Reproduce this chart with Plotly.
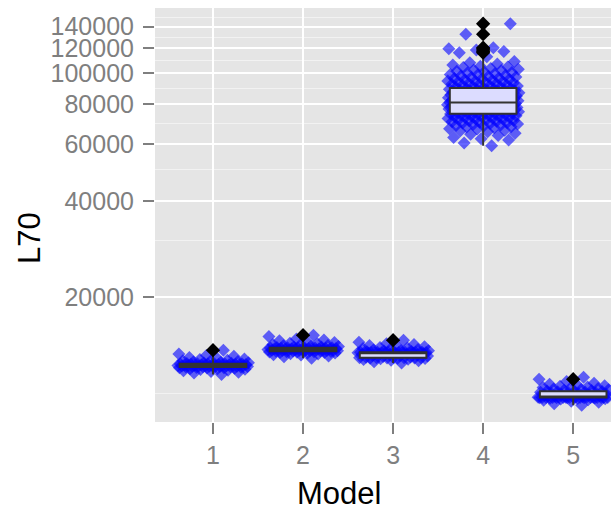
import numpy as np
import plotly.graph_objects as go

# ---- data -------------------------------------------------------------
models = [1, 2, 3, 4, 5]
model_labels = ["1", "2", "3", "4", "5"]

# L70 observations per model
l70_model1 = [
    11450, 11580, 11650, 11700, 11780, 11810, 11870, 11890, 11940, 11950, 11990, 12000,
    12030, 12040, 12060, 12080, 12090, 12100, 12115, 12120, 12135, 12140, 12150, 12165,
    12170, 12180, 12190, 12190, 12200, 12210, 12215, 12220, 12225, 12230, 12240, 12245,
    12260, 12270, 12275, 12290, 12300, 12305, 12320, 12330, 12335, 12350, 12360, 12365,
    12375, 12380, 12390, 12405, 12430, 12450, 12470, 12510, 12530, 12575, 12600, 12650,
    12690, 12760, 12800, 12880, 12950, 13060, 13150, 13290, 13650,
]
l70_model2 = [
    12890, 13020, 13090, 13180, 13220, 13290, 13310, 13370, 13380, 13420, 13430, 13460,
    13470, 13500, 13505, 13520, 13535, 13545, 13560, 13570, 13590, 13595, 13610, 13620,
    13640, 13645, 13660, 13665, 13680, 13690, 13695, 13705, 13715, 13721, 13730, 13745,
    13750, 13760, 13780, 13785, 13795, 13810, 13815, 13830, 13840, 13855, 13860, 13875,
    13880, 13895, 13901, 13920, 13955, 13970, 14020, 14040, 14100, 14120, 14190, 14220,
    14300, 14340, 14430, 14490, 14600, 14680, 14800, 15050, 15206,
]
l70_model3 = [
    12450, 12570, 12640, 12700, 12760, 12790, 12830, 12850, 12875, 12890, 12905, 12912,
    12920, 12924, 12928, 12931, 12934, 12965, 13000, 13050, 13080, 13120, 13150, 13185,
    13210, 13240, 13265, 13290, 13310, 13330, 13350, 13365, 13385, 13400, 13404, 13407,
    13411, 13414, 13418, 13421, 13425, 13428, 13431, 13435, 13438, 13441, 13444, 13447,
    13450, 13454, 13457, 13490, 13520, 13560, 13590, 13630, 13670, 13720, 13760, 13810,
    13860, 13920, 13980, 14050, 14130, 14210, 14300, 14440, 14670,
]
l70_model4 = [
    59400, 60600, 61900, 63100, 64000, 65000, 65700, 66500, 67200, 67700, 68200, 68800,
    69300, 69700, 70200, 70700, 71100, 71500, 71900, 72300, 72800, 73100, 73400, 73800,
    74200, 74500, 74800, 75100, 75300, 75600, 75900, 76200, 76400, 76600, 76900, 77100,
    77300, 77600, 77800, 78000, 78200, 78500, 78700, 78800, 79100, 79200, 79400, 79700,
    79800, 80000, 80300, 80400, 80500, 80800, 80900, 81000, 81150, 81300, 81600, 81900,
    82100, 82300, 82600, 83000, 83200, 83400, 83700, 84100, 84300, 84500, 84900, 85200,
    85400, 85800, 86100, 86300, 86700, 87100, 87300, 87500, 87900, 88200, 88400, 88900,
    89100, 89500, 89800, 90200, 90800, 91100, 91500, 92100, 92500, 93000, 93600, 94000,
    94500, 95200, 95900, 96400, 97100, 97900, 98500, 99300, 100300, 101000, 102100,
    103000, 104300, 105400, 107100, 109000, 112800, 116100, 117200, 118300, 119400,
    120400, 132700, 143000,
    62500, 64600, 66100, 67000, 68000, 68500, 69000, 69500, 70000, 70400, 70900, 71300,
    71700, 72100, 72500, 72900, 73300, 73600, 74000, 74400, 74700, 75000, 75400, 75700,
    76000, 76300, 76500, 76800, 77000, 77200, 77500, 77700, 77900, 78100, 78300, 78600,
    78900, 79000, 79300, 79600, 79900, 80100, 80200, 80600, 80700, 81100, 81400, 81700,
    82000, 82200, 82500, 82800, 82900, 83300, 83600, 83900, 84200, 84600, 84800, 85000,
    85300, 85600, 85900, 86200, 86500, 86800, 87200, 87600, 88000, 88300, 88700, 89300,
    89700, 90500, 91300, 91800, 92300, 92800, 93300, 94200, 94800, 95500, 96100, 96800,
    97500, 98200, 99000, 99800, 100700, 101600, 102600, 103600, 104800, 106200, 108000,
]
l70_model5 = [
    9184, 9290, 9385, 9450, 9515, 9560, 9600, 9630, 9650, 9665, 9678, 9686, 9693, 9698,
    9701, 9704, 9707, 9708, 9709, 9711, 9712, 9714, 9715, 9716, 9717, 9719, 9720, 9721,
    9723, 9724, 9726, 9727, 9729, 9730, 9760, 9790, 9820, 9850, 9880, 9905, 9935, 9960,
    9990, 10015, 10040, 10065, 10085, 10105, 10125, 10145, 10158, 10185, 10205, 10235,
    10260, 10295, 10325, 10360, 10395, 10440, 10480, 10525, 10575, 10630, 10690, 10760,
    10890, 11075, 11230,
]
observations = [l70_model1, l70_model2, l70_model3, l70_model4, l70_model5]

# box-plot summaries
box_q1 = [12090, 13535, 12934, 74800, 9707]
box_median = [12230, 13721, 13400, 81150, 9730]
box_q3 = [12390, 13901, 13457, 90000, 10158]
box_lower = [11450, 12890, 12450, 59400, 9184]
box_upper = [13300, 14800, 14300, 112800, 10760]

# points beyond the whiskers
outlier_model = [1, 2, 3, 4, 4, 4, 4, 4, 4, 4, 5]
outlier_l70 = [13650, 15206, 14670, 116100, 117200, 118300, 119400, 120400, 132700, 143000, 11075]

# y-axis breaks
y_ticks = [20000, 40000, 60000, 80000, 100000, 120000, 140000]
y_tick_labels = ["20000", "40000", "60000", "80000", "100000", "120000", "140000"]
y_minor = [10000, 30000, 50000, 70000, 90000, 110000, 130000, 150000]

# ---- styling ------------------------------------------------------------
FONT = "Liberation Sans, Arial, sans-serif"
GREY_TEXT = "#7F7F7F"
PANEL = "#E5E5E5"
X_RANGE = [0.356, 5.42]
Y_RANGE = [3.9107, 5.2046]   # log10 units
JITTER = 0.4                 # half-width of the horizontal jitter
GOLDEN = 0.6180339887

fig = go.Figure()

# jittered raw observations (bottom layer)
for m, vals in zip(models, observations):
    vals = np.sort(np.asarray(vals, dtype=float))
    k = np.arange(1, len(vals) + 1)
    offset = ((k * GOLDEN) % 1.0 - 0.5) * 2 * JITTER
    fig.add_trace(go.Scatter(
        x=m + offset, y=vals, mode="markers",
        marker=dict(symbol="diamond", size=10, color="blue", opacity=0.6,
                    line=dict(width=0)),
        hoverinfo="skip", showlegend=False,
    ))

# box plots drawn on an overlaid subplot so they sit above the points
fig.add_trace(go.Box(
    x=models, q1=box_q1, median=box_median, q3=box_q3,
    lowerfence=box_lower, upperfence=box_upper,
    width=0.74, whiskerwidth=0, boxpoints=False,
    fillcolor="#DCDCFF", line=dict(color="#333333", width=2),
    xaxis="x2", yaxis="y2", showlegend=False, hoverinfo="skip",
))
fig.add_trace(go.Scatter(
    x=outlier_model, y=outlier_l70, mode="markers",
    marker=dict(symbol="diamond", size=11, color="black", line=dict(width=0)),
    xaxis="x2", yaxis="y2", showlegend=False, hoverinfo="skip",
))

fig.update_layout(
    width=611, height=510,
    margin=dict(l=155, r=0, t=8, b=88),
    paper_bgcolor="white", plot_bgcolor=PANEL,
    font=dict(family=FONT),
    xaxis=dict(
        range=X_RANGE, tickmode="array", tickvals=models, ticktext=model_labels,
        showgrid=True, gridcolor="white", gridwidth=2, zeroline=False, showline=False,
        ticks="outside", ticklen=11, tickwidth=2, tickcolor=GREY_TEXT,
        tickfont=dict(size=25, color=GREY_TEXT, family=FONT),
    ),
    yaxis=dict(
        type="log", range=Y_RANGE, tickmode="array", tickvals=y_ticks, ticktext=y_tick_labels,
        showgrid=True, gridcolor="white", gridwidth=2, zeroline=False, showline=False,
        ticks="outside", ticklen=11, tickwidth=2, tickcolor=GREY_TEXT,
        ticklabelstandoff=4,
        tickfont=dict(size=25, color=GREY_TEXT, family=FONT),
        minor=dict(tickmode="array", tickvals=y_minor, showgrid=True,
                   gridcolor="#F2F2F2", gridwidth=1, ticks=""),
    ),
    xaxis2=dict(overlaying="x", range=X_RANGE, visible=False),
    yaxis2=dict(overlaying="y", type="log", range=Y_RANGE, visible=False),
    annotations=[
        dict(text="L70", textangle=-90, xref="paper", yref="paper",
             x=-0.2763, y=0.4444, xanchor="center", yanchor="middle", showarrow=False,
             font=dict(size=31, color="black", family=FONT)),
        dict(text="Model", xref="paper", yref="paper",
             x=0.4035, y=-0.1739, xanchor="center", yanchor="middle", showarrow=False,
             font=dict(size=31, color="black", family=FONT)),
    ],
)

fig.write_html("out.html")
